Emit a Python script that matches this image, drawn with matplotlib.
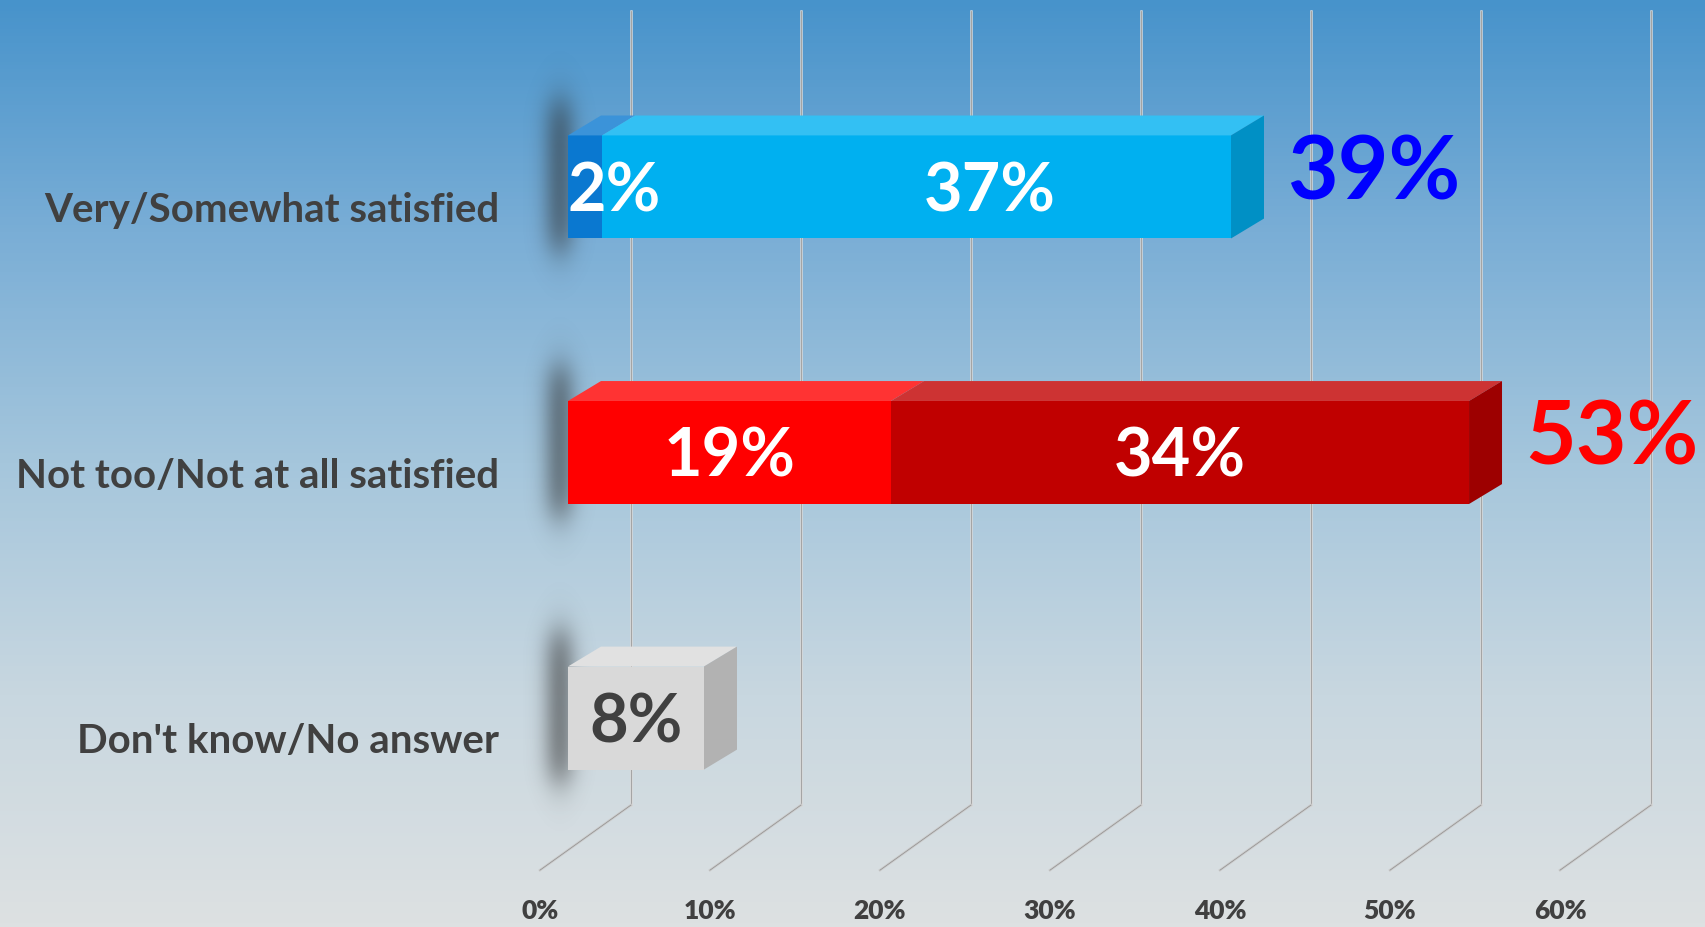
import numpy as np
import matplotlib
matplotlib.use("Agg")
from matplotlib import pyplot as plt
from matplotlib.patches import Polygon
from matplotlib.colors import LinearSegmentedColormap, to_rgb

plt.rcParams['font.family'] = ['Lato', 'DejaVu Sans']

categories = ['Very/Somewhat satisfied', 'Not too/Not at all satisfied', "Don't know/No answer"]
strong = [2, 19, 8]        # Very satisfied / Not at all satisfied / DK
mild = [37, 34, 0]         # Somewhat / Not too
totals = [39, 53, None]
ticks = [0, 10, 20, 30, 40, 50, 60]
tick_labels = ['0%', '10%', '20%', '30%', '40%', '50%', '60%']

strong_colors = ['#0a78d0', '#ff0000', '#d9d9d9']
mild_colors = ['#00b0f0', '#c00000', '#d9d9d9']
total_colors = ['#0000ff', '#ff0000', None]

fig = plt.figure(figsize=(17.05, 9.27), dpi=100)
ax = fig.add_axes([0, 0, 1, 1])
ax.set_xlim(-33.41, 66.88)
ax.set_ylim(2.787, -0.704)
ax.axis('off')

# background gradient
bg = LinearSegmentedColormap.from_list('bg', ['#4793cb', '#7aaed6', '#a5c6dc', '#c8d7e0', '#dde1e2'])
grad = np.linspace(0, 1, 256).reshape(-1, 1)
ax.imshow(grad, cmap=bg, aspect='auto', extent=(-33.41, 66.88, 2.787, -0.704), zorder=0)

# back-wall gridlines and floor lines
dx_back, dx_front = 3.7, -1.65
y_top, y_floor, y_front = -0.663, 2.328, 2.573
for t in ticks:
    ax.plot([t + dx_back, t + dx_back], [y_top, y_floor], color='#d8d8d8', lw=1.8, zorder=1)
    ax.plot([t + dx_back, t + dx_back], [y_top, y_floor], color='#8f8f8f', lw=0.5, zorder=1)
    ax.plot([t + dx_back, t + dx_front], [y_floor, y_front], color='#cccccc', lw=1.8, zorder=1)
    ax.plot([t + dx_back, t + dx_front], [y_floor, y_front], color='#8f8f8f', lw=0.5, zorder=1)
for t, lab in zip(ticks, tick_labels):
    ax.text(t + dx_front, 2.727, lab, ha='center', va='center', fontsize=19,
            fontweight='heavy', color='#404040', zorder=5)

rows = np.arange(len(categories))
h = 0.388
ddx, ddy = 1.94, -0.075   # 3d depth offset


def shade(c, f):
    r = np.array(to_rgb(c))
    return tuple(np.clip(r * f, 0, 1)) if f < 1 else tuple(r + (1 - r) * (f - 1))


# soft shadow image (blurred dark band left of each bar), fades to zero at all edges
sx = np.linspace(-4.0, 2.0, 90)
sy = np.linspace(-0.56, 0.48, 100)
SX, SY = np.meshgrid(sx, sy)
fx = np.exp(-((SX + 0.5) / 1.0) ** 2)
fy = 1 / (1 + np.exp((np.abs(SY + 0.04) - 0.28) / 0.04))
alpha = 0.5 * fx * fy
shadow = np.zeros(SX.shape + (4,))
shadow[..., :3] = 0.18
shadow[..., 3] = alpha

for i in rows:
    ax.imshow(shadow, extent=(-4.0, 2.0, i + 0.48, i - 0.56), aspect='auto', zorder=2,
              interpolation='bilinear')
    segs = [(0, strong[i], strong_colors[i]), (strong[i], mild[i], mild_colors[i])]
    for left, w, c in segs:
        if w <= 0:
            continue
        ax.barh(i, w, left=left, height=h, color=c, edgecolor='none', zorder=3)
        # top face
        top = i - h / 2
        ax.add_patch(Polygon([(left, top), (left + w, top), (left + w + ddx, top + ddy),
                              (left + ddx, top + ddy)], closed=True,
                             color=shade(c, 1.2), lw=0, zorder=3))
    end = strong[i] + mild[i]
    last = segs[1][2] if mild[i] > 0 else segs[0][2]
    ax.add_patch(Polygon([(end, i - h / 2), (end + ddx, i - h / 2 + ddy),
                          (end + ddx, i + h / 2 + ddy), (end, i + h / 2)], closed=True,
                         color=shade(last, 0.82), lw=0, zorder=3))

    ax.text(-4.06, i + 0.09, categories[i], ha='right', va='center', fontsize=29,
            fontweight='bold', color='#404040', zorder=5)

# segment labels
label_shift = [[1.7, 4.3], [0, 0], [0, 0]]
for i in rows:
    if mild[i] > 0:
        ax.text(strong[i] / 2 + label_shift[i][0], i + 0.02, f'{strong[i]}%', ha='center', va='center',
                fontsize=48, fontweight='bold', color='white', zorder=6)
        ax.text(strong[i] + mild[i] / 2 + label_shift[i][1], i + 0.02, f'{mild[i]}%', ha='center',
                va='center', fontsize=48, fontweight='bold', color='white', zorder=6)
    else:
        ax.text(strong[i] / 2, i + 0.02, f'{strong[i]}%', ha='center', va='center',
                fontsize=48, fontweight='bold', color='#404040', zorder=6)
    if totals[i] is not None:
        ax.text(totals[i] + 3.3, i - 0.05, f'{totals[i]}%', ha='left', va='center',
                fontsize=63, fontweight='bold', color=total_colors[i], zorder=6)

fig.savefig('out.png', dpi=100)
